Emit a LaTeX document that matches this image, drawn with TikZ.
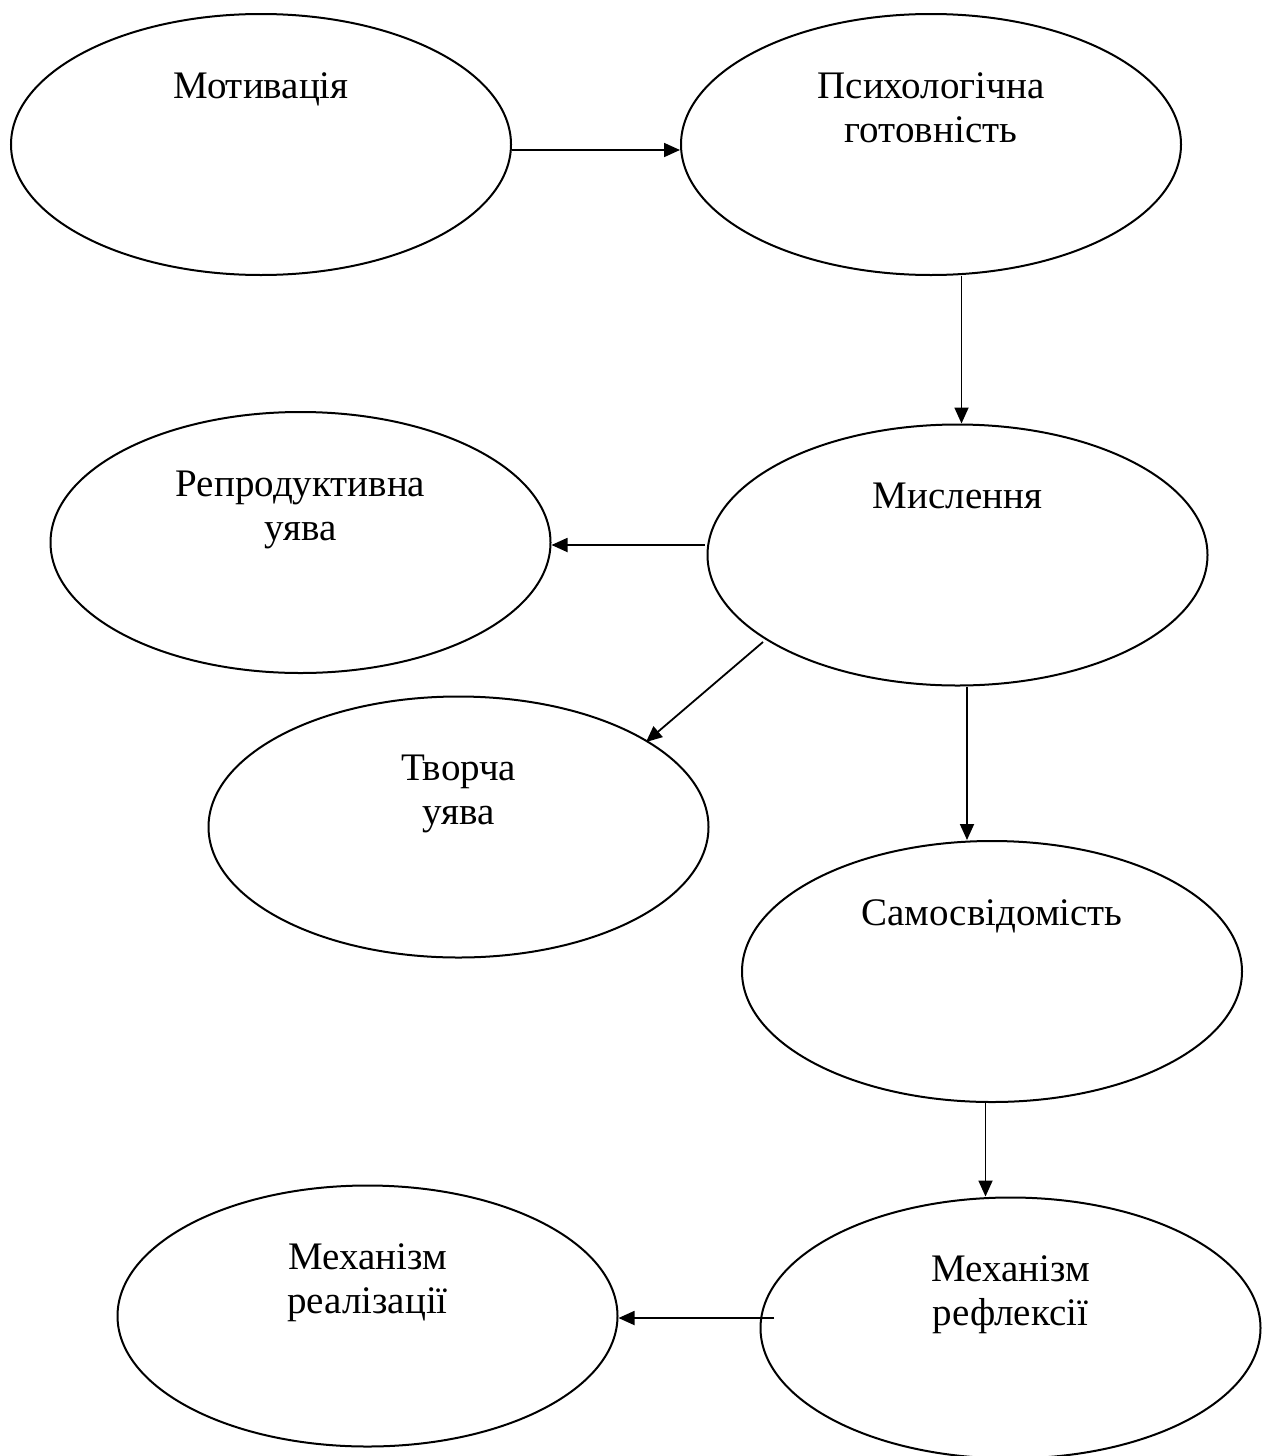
\documentclass[tikz,border=0pt]{standalone}
\usepackage{fontspec}
\setmainfont{Liberation Serif}
\usetikzlibrary{arrows.meta,shapes.geometric,calc}
\begin{document}
\begin{tikzpicture}[x=1pt,y=-1pt,
  oval/.style={ellipse, draw, line width=2pt, minimum width=500pt, minimum height=261pt, inner sep=0pt},
  lbl/.style={font=\fontsize{39}{44}\selectfont, align=center, anchor=base, inner sep=0pt},
  conn/.style={line width=1.8pt, -{Triangle[length=16pt,width=14pt]}}]
\useasboundingbox (0,0) rectangle (1263,1456);
% ellipses
\node[oval] (mot) at (261,144.5) {};
\node[oval] (psy) at (931,144.5) {};
\node[oval] (rep) at (300.5,542.5) {};
\node[oval] (mys) at (957.5,555) {};
\node[oval] (tvo) at (458.5,827) {};
\node[oval] (sam) at (992,971.5) {};
\node[oval] (rea) at (367.5,1316) {};
\node[oval] (ref) at (1010.5,1328) {};
% labels (base anchor = baseline of the last line)
\node[lbl] (mot-t) at ($(mot.center)+(0,-46.5)$) {Мотивація};
\node[lbl] (psy-t) at ($(psy.center)+(0,-2.5)$) {Психологічна\\готовність};
\node[lbl] (rep-t) at ($(rep.center)+(0,-2.5)$) {Репродуктивна\\уява};
\node[lbl] (mys-t) at ($(mys.center)+(0,-46.5)$) {Мислення};
\node[lbl] (tvo-t) at ($(tvo.center)+(0,-2.5)$) {Творча\\уява};
\node[lbl] (sam-t) at ($(sam.center)+(0,-46.5)$) {Самосвідомість};
\node[lbl] (rea-t) at ($(rea.center)+(0,-2.5)$) {Механізм\\реалізації};
\node[lbl] (ref-t) at ($(ref.center)+(0,-2.5)$) {Механізм\\рефлексії};
% connectors
\draw[conn] ($(mot.east)+(0,5.5)$) -- ($(psy.west)+(0,5.5)$);
\draw[conn] ($(psy.south)+(30.5,0)$) -- ($(mys.north)+(4,0)$);
\draw[conn] ($(mys.west)+(-2,-10)$) -- ($(rep.east)+(0,2.5)$);
\draw[conn] ($(mys.center)+(-194.5,87)$) -- ($(tvo.center)+(187.5,-85)$);
\draw[conn] ($(mys.south)+(9.5,0)$) -- ($(sam.north)+(-25,0)$);
\draw[conn] ($(sam.south)+(-6.5,0)$) -- ($(ref.north)+(-25,0)$);
\draw[conn] ($(ref.west)+(14.5,-10)$) -- ($(rea.east)+(0,2)$);
\end{tikzpicture}
\end{document}
